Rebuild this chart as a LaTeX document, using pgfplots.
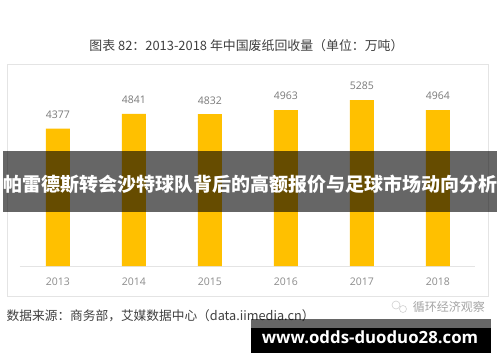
\documentclass[border=0pt]{standalone}
\usepackage{pgfplots}
\pgfplotsset{compat=1.18}
\usepackage{fontspec}
\setmainfont{Open Sans}
\newfontfamily\cjk{Noto Sans CJK SC}
\definecolor{baryel}{HTML}{FFC000}
\definecolor{frameg}{HTML}{E4E4E4}
\definecolor{labg}{HTML}{7A7A7A}
\definecolor{tickg}{HTML}{8C8C8C}
\definecolor{titleg}{HTML}{404040}
\begin{document}
\begin{tikzpicture}[x=1pt,y=1pt]
\path[fill=white] (0,0) rectangle (500,362);
\clip (0,0) rectangle (500,362);
\draw[frameg,line width=1pt] (7,362-65) rectangle (488,362-296);
\begin{axis}[
  at={(20pt,96pt)},anchor=south west,
  scale only axis,width=455pt,height=201pt,
  xmin=2012.5,xmax=2018.49,ymin=0,ymax=6400,
  axis x line*=bottom,axis y line=none,
  axis line style={frameg,line width=1pt,-},
  xtick=data,xticklabel style={text=tickg,font=\fontsize{10.5}{10.5}\selectfont,/pgf/number format/assume math mode=true},
  x tick label style={/pgf/number format/1000 sep=,yshift=-8.5pt},
  major tick length=0pt,
  clip=false,
  nodes near coords,
  nodes near coords style={text=labg,font=\fontsize{10.5}{10.5}\selectfont,/pgf/number format/1000 sep=,/pgf/number format/assume math mode=true,yshift=6.5pt},
]
\addplot[ybar,bar width=24pt,fill=baryel,draw=none] coordinates {
(2013,4377)(2014,4841)(2015,4832)(2016,4963)(2017,5285)(2018,4964)};
\end{axis}
\node[anchor=center,text=titleg,inner sep=0pt] at (246.5,362-45.5) {\cjk\fontsize{12.9}{12.9}\selectfont 图表 82：2013-2018 年中国废纸回收量（单位：万吨）};
\node[anchor=west,text=titleg,inner sep=0pt] at (6.5,362-315.5) {\cjk\fontsize{12.7}{12.7}\selectfont 数据来源：商务部，艾媒数据中心（data.iimedia.cn）};
\node[anchor=east,text=black!35,inner sep=0pt] at (485,362-306.5) {\cjk\fontsize{12}{12}\selectfont 循环经济观察};
\draw[black!18,line width=.6pt] (396,362-305) circle (4pt);
\draw[black!18,line width=.6pt] (403,362-309) circle (3.5pt);
\fill[black,opacity=.6] (3,362-151) rectangle (497,362-212);
\node[anchor=center,text=white,inner sep=0pt] at (250,362-184.5) {\cjk\bfseries\fontsize{19}{19}\selectfont 帕雷德斯转会沙特球队背后的高额报价与足球市场动向分析};
\fill[black,opacity=.6] (251,362-319) rectangle (491,362-328);
\fill[black] (251,362-328) rectangle (491,362-353);
\node[anchor=center,text=white,inner sep=0pt] at (370,362-337) {\bfseries\fontsize{16.8}{16.8}\selectfont www.odds-duoduo28.com};
\end{tikzpicture}
\end{document}
